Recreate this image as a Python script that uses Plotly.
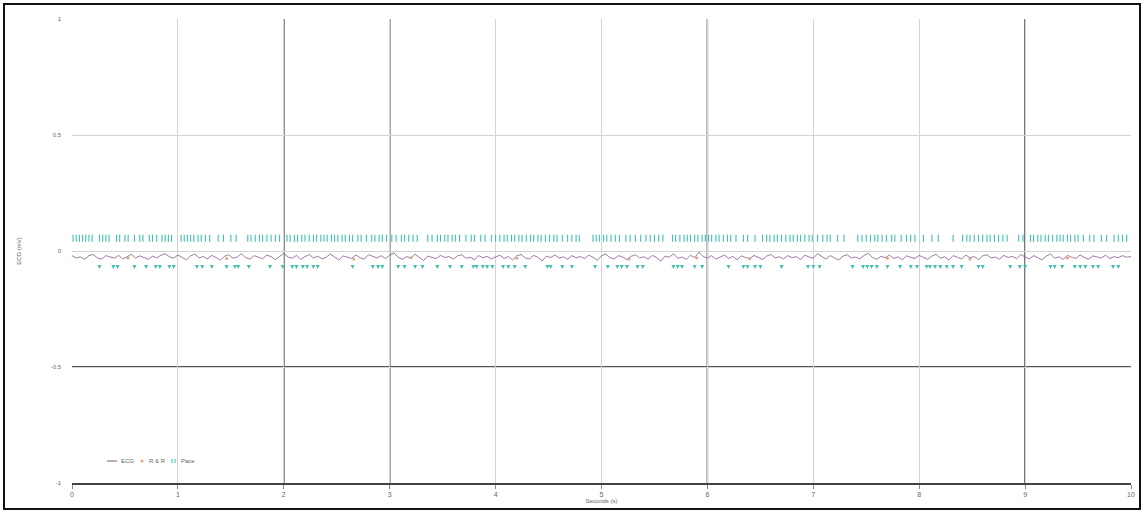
import plotly.graph_objects as go

# ---- data ----
ecg_dt = 0.04
ecg_values = [
    -0.020, -0.030, -0.025, -0.036, -0.020, -0.015, -0.030, -0.035, -0.020, -0.026, -0.031, -0.019, -0.034, -0.025, -0.014, -0.030, -0.021, -0.028, -0.036, -0.022, -0.030, -0.018, -0.012, -0.025, -0.031,
    -0.017, -0.027, -0.038, -0.021, -0.013, -0.029, -0.024, -0.034, -0.019, -0.028, -0.040, -0.023, -0.016, -0.031, -0.026, -0.012, -0.029, -0.035, -0.020, -0.027, -0.033, -0.018, -0.024, -0.037, -0.022,
    -0.010, -0.026, -0.031, -0.019, -0.036, -0.024, -0.015, -0.030, -0.022, -0.034, -0.027, -0.013, -0.028, -0.039, -0.021, -0.026, -0.032, -0.017, -0.029, -0.035, -0.016, -0.023, -0.030, -0.020, -0.033,
    -0.018, -0.008, -0.027, -0.036, -0.024, -0.030, -0.014, -0.029, -0.041, -0.022, -0.026, -0.033, -0.019, -0.028, -0.024, -0.035, -0.021, -0.016, -0.031, -0.027, -0.037, -0.020, -0.029, -0.023, -0.034,
    -0.026, -0.018, -0.032, -0.024, -0.038, -0.021, -0.015, -0.030, -0.034, -0.019, -0.027, -0.043, -0.022, -0.028, -0.017, -0.031, -0.025, -0.036, -0.020, -0.029, -0.024, -0.033, -0.018, -0.027, -0.040,
    -0.021, -0.013, -0.029, -0.034, -0.020, -0.026, -0.037, -0.023, -0.016, -0.030, -0.025, -0.035, -0.019, -0.028, -0.044, -0.022, -0.027, -0.012, -0.031, -0.026, -0.036, -0.018, -0.029, -0.005, -0.024,
    -0.030, -0.020, -0.035, -0.026, -0.017, -0.032, -0.023, -0.038, -0.021, -0.028, -0.033, -0.019, -0.027, -0.036, -0.022, -0.015, -0.030, -0.025, -0.034, -0.020, -0.029, -0.024, -0.037, -0.018, -0.026,
    -0.031, -0.012, -0.024, -0.035, -0.020, -0.028, -0.039, -0.022, -0.016, -0.030, -0.026, -0.034, -0.019, -0.010, -0.028, -0.036, -0.023, -0.029, -0.017, -0.033, -0.025, -0.038, -0.021, -0.027, -0.032,
    -0.019, -0.028, -0.036, -0.022, -0.014, -0.031, -0.025, -0.039, -0.020, -0.027, -0.034, -0.018, -0.029, -0.024, -0.037, -0.021, -0.016, -0.030, -0.026, -0.035, -0.019, -0.028, -0.023, -0.033, -0.015,
    -0.026, -0.034, -0.020, -0.029, -0.038, -0.022, -0.013, -0.031, -0.025, -0.036, -0.019, -0.027, -0.032, -0.017, -0.028, -0.035, -0.021, -0.026, -0.030, -0.018, -0.033, -0.024, -0.029, -0.020, -0.027,
    -0.024,
]
ecg_x = [i * ecg_dt for i in range(len(ecg_values))]

rr_x = [0.53, 1.46, 2.66, 3.20, 4.20, 5.26, 5.90, 6.40, 7.70, 8.48, 9.40]
rr_y = [-0.030, -0.032, -0.034, -0.029, -0.031, -0.035, -0.030, -0.033, -0.031, -0.034, -0.030]

pace_up_x = [
    0.01, 0.04, 0.07, 0.10, 0.13, 0.16, 0.19, 0.26, 0.29, 0.32, 0.35, 0.42, 0.45, 0.50, 0.53, 0.59,
    0.64, 0.67, 0.73, 0.76, 0.80, 0.85, 0.88, 0.91, 0.94, 1.03, 1.06, 1.09, 1.12, 1.15, 1.19, 1.22,
    1.26, 1.30, 1.38, 1.43, 1.50, 1.55, 1.66, 1.69, 1.73, 1.77, 1.80, 1.84, 1.88, 1.92, 1.96, 2.03,
    2.06, 2.10, 2.13, 2.17, 2.20, 2.24, 2.28, 2.31, 2.35, 2.38, 2.41, 2.45, 2.48, 2.51, 2.55, 2.58,
    2.62, 2.65, 2.70, 2.73, 2.78, 2.83, 2.86, 2.90, 2.93, 2.97, 3.02, 3.06, 3.11, 3.14, 3.18, 3.22,
    3.26, 3.36, 3.40, 3.45, 3.48, 3.52, 3.55, 3.59, 3.62, 3.66, 3.72, 3.77, 3.80, 3.86, 3.90, 3.96,
    4.00, 4.04, 4.08, 4.11, 4.15, 4.18, 4.22, 4.25, 4.29, 4.33, 4.36, 4.40, 4.43, 4.47, 4.51, 4.55,
    4.58, 4.63, 4.68, 4.72, 4.76, 4.79, 4.92, 4.95, 4.98, 5.02, 5.05, 5.09, 5.13, 5.17, 5.23, 5.27,
    5.32, 5.37, 5.42, 5.46, 5.50, 5.54, 5.58, 5.67, 5.70, 5.74, 5.78, 5.81, 5.84, 5.88, 5.91, 5.95,
    5.98, 6.01, 6.04, 6.08, 6.11, 6.15, 6.19, 6.22, 6.27, 6.34, 6.38, 6.45, 6.52, 6.56, 6.59, 6.63,
    6.66, 6.70, 6.74, 6.78, 6.81, 6.85, 6.88, 6.92, 6.96, 6.99, 7.04, 7.09, 7.13, 7.16, 7.23, 7.29,
    7.42, 7.46, 7.50, 7.54, 7.58, 7.61, 7.65, 7.69, 7.74, 7.77, 7.83, 7.88, 7.92, 7.96, 8.04, 8.12,
    8.18, 8.32, 8.41, 8.45, 8.48, 8.52, 8.56, 8.60, 8.64, 8.67, 8.71, 8.75, 8.79, 8.83, 8.94, 8.98,
    9.05, 9.08, 9.12, 9.15, 9.19, 9.22, 9.26, 9.30, 9.33, 9.36, 9.40, 9.43, 9.47, 9.50, 9.55, 9.61,
    9.65, 9.72, 9.77, 9.84, 9.88, 9.92, 9.96,
]
pace_up_level = 0.055

pace_down_x = [
    0.26, 0.39, 0.43, 0.59, 0.70, 0.79, 0.83, 0.92, 0.96, 1.18, 1.23, 1.32, 1.46, 1.54, 1.57, 1.67,
    1.87, 1.99, 2.08, 2.12, 2.18, 2.22, 2.28, 2.32, 2.65, 2.84, 2.89, 2.93, 3.08, 3.14, 3.24, 3.31,
    3.45, 3.57, 3.68, 3.79, 3.82, 3.88, 3.92, 3.97, 4.07, 4.12, 4.18, 4.28, 4.49, 4.52, 4.63, 4.72,
    4.94, 5.06, 5.15, 5.19, 5.24, 5.34, 5.39, 5.68, 5.72, 5.76, 5.88, 5.95, 6.20, 6.34, 6.38, 6.45,
    6.50, 6.70, 6.95, 7.00, 7.06, 7.37, 7.47, 7.51, 7.55, 7.60, 7.70, 7.82, 7.92, 7.98, 8.07, 8.10,
    8.15, 8.20, 8.26, 8.32, 8.40, 8.56, 8.60, 8.86, 8.95, 9.00, 9.24, 9.28, 9.35, 9.47, 9.52, 9.57,
    9.64, 9.69, 9.83, 9.88,
]
pace_down_level = -0.078

x_ticks = [0, 1, 2, 3, 4, 5, 6, 7, 8, 9, 10]
y_ticks = [-1, -0.5, 0, 0.5, 1]
y_tick_text = ["-1", "-0.5", "0", "0.5", "1"]
dark_x_lines = [2, 3, 6, 9]
dark_y_lines = [-0.5]
legend_labels = ["ECG", "R & R", "Pace"]

ECG_COLOR = "#86588a"
RR_COLOR = "#e8a27e"
TEAL = "#3fbfb5"
TEXT = "#666666"
FONT = "Liberation Sans"

fig = go.Figure()
fig.add_trace(go.Scatter(x=ecg_x, y=ecg_values, mode="lines", name=legend_labels[0],
                         line=dict(color=ECG_COLOR, width=0.8)))
fig.add_trace(go.Scatter(x=rr_x, y=rr_y, mode="markers", name=legend_labels[1],
                         marker=dict(color=RR_COLOR, size=3, symbol="circle")))
fig.add_trace(go.Scatter(x=pace_up_x, y=[pace_up_level] * len(pace_up_x), mode="markers",
                         name=legend_labels[2],
                         marker=dict(color=TEAL, size=5, symbol="line-ns-open",
                                     line=dict(color=TEAL, width=1.1))))
fig.add_trace(go.Scatter(x=pace_down_x, y=[pace_down_level] * len(pace_down_x), mode="markers",
                         name=legend_labels[2],
                         marker=dict(color=TEAL, size=4, symbol="arrow-down",
                                     line=dict(color=TEAL, width=0))))

# plot area in pixels: x 72..1131, y 19..483
W, H = 1144, 512
L, R, T, B = 72, 13, 19, 29
pw, ph = W - L - R, H - T - B

def px(xp):
    return (xp - L) / pw

def py(yp):
    return (H - B - yp) / ph

shapes = []
for xv in dark_x_lines:
    shapes.append(dict(type="line", xref="x", yref="y", x0=xv, x1=xv, y0=-1, y1=1,
                       line=dict(color="#1e1e1e", width=1.4), layer="below"))
for yv in dark_y_lines:
    shapes.append(dict(type="line", xref="x", yref="y", x0=0, x1=10, y0=yv, y1=yv,
                       line=dict(color="#1e1e1e", width=1.4), layer="below"))
# outer frame of the picture
shapes.append(dict(type="rect", xref="paper", yref="paper",
                   x0=px(4), x1=px(1140), y0=py(509), y1=py(4),
                   line=dict(color="#111111", width=2)))

# compact legend drawn by hand (bottom-left of plot)
ly = py(461)
shapes.append(dict(type="line", xref="paper", yref="paper", x0=px(107), x1=px(117),
                   y0=ly, y1=ly, line=dict(color=ECG_COLOR, width=1)))
shapes.append(dict(type="circle", xref="paper", yref="paper", x0=px(140.5), x1=px(143.5),
                   y0=py(462.5), y1=py(459.5), fillcolor=RR_COLOR, line=dict(width=0)))
for xp in (172, 175):
    shapes.append(dict(type="line", xref="paper", yref="paper", x0=px(xp), x1=px(xp),
                       y0=py(463), y1=py(459), line=dict(color=TEAL, width=1)))
annotations = []
for xp, lab in ((119, legend_labels[0]), (147, legend_labels[1]), (179, legend_labels[2])):
    annotations.append(dict(x=px(xp), y=ly, xref="paper", yref="paper", text=lab,
                            showarrow=False, xanchor="left", yanchor="middle",
                            font=dict(size=6, color=TEXT, family=FONT)))

fig.update_layout(
    width=W, height=H,
    margin=dict(l=L, r=R, t=T, b=B),
    paper_bgcolor="white", plot_bgcolor="white",
    font=dict(family=FONT, size=6, color=TEXT),
    showlegend=False,
    shapes=shapes,
    annotations=annotations,
    xaxis=dict(range=[0, 10], tickvals=x_ticks, showgrid=True, gridcolor="#d4d4d4", gridwidth=1,
               zeroline=False, showline=True, linecolor="#444444", linewidth=1.5,
               ticks="outside", ticklen=4, tickcolor="#888888", tickfont=dict(size=7),
               automargin=False,
               title=dict(text="Seconds (s)", font=dict(size=6), standoff=2)),
    yaxis=dict(range=[-1, 1], tickvals=y_ticks, ticktext=y_tick_text, showgrid=True,
               gridcolor="#d4d4d4", gridwidth=1, zeroline=False, showline=False,
               ticks="", tickfont=dict(size=6), ticklabelstandoff=10, automargin=False,
               title=dict(text="ECG (mV)", font=dict(size=6), standoff=28)),
)

fig.write_html("out.html")
